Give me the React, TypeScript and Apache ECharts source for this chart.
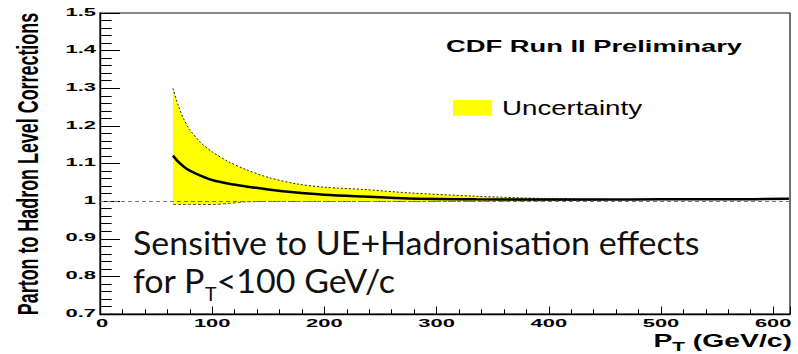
import React, { useEffect, useRef } from "react";
import * as echarts from "echarts";

// Axis ticks and their labels
const xTicks = [0, 100, 200, 300, 400, 500, 600];
const xTickLabels = ["0", "100", "200", "300", "400", "500", "600"];
const yTicks = [0.7, 0.8, 0.9, 1.0, 1.1, 1.2, 1.3, 1.4, 1.5];
const yTickLabels = ["0.7", "0.8", "0.9", "1", "1.1", "1.2", "1.3", "1.4", "1.5"];

// Uncertainty band (P_T in GeV/c, correction factor)
const bandPt = [65, 70, 75, 80, 90, 100, 115, 130, 150, 175, 200, 235, 275, 335, 395, 450];
const bandUpper = [1.3, 1.252, 1.216, 1.19, 1.155, 1.131, 1.104, 1.084, 1.063, 1.046, 1.037, 1.031, 1.022, 1.013, 1.007, 1.005];
const bandLower = [0.991, 0.991, 0.991, 0.991, 0.991, 0.991, 0.994, 0.998, 0.999, 0.999, 0.999, 0.999, 0.999, 1.0, 1.001, 1.003];

// Central parton-to-hadron correction
const centralPt = [65, 70, 75, 80, 90, 100, 115, 130, 150, 175, 200, 235, 275, 335, 395, 450, 500, 560, 614];
const central = [1.121, 1.104, 1.091, 1.081, 1.067, 1.056, 1.046, 1.039, 1.031, 1.023, 1.017, 1.012, 1.007, 1.005, 1.004, 1.004, 1.005, 1.005, 1.006];

const referenceLevel = 1;

const X_MIN = 0;
const X_MAX = 615;
const Y_MIN = 0.7;
const Y_MAX = 1.5;

const BOLD = "'Liberation Sans', Arial, Helvetica, sans-serif";
const GEO = "Lato, 'Open Sans', sans-serif";

export default function App() {
  const ref = useRef<HTMLDivElement | null>(null);

  useEffect(() => {
    if (!ref.current) return;
    const chart = echarts.init(ref.current, null, { renderer: "svg" });

    // Band rows are [correction, pt] so that stacking acts on the correction value.
    const lowerRows = bandPt.map((x, i) => [bandLower[i], x]);
    const widthRows = bandPt.map((x, i) => [bandUpper[i] - bandLower[i], x]);

    const option: any = {
      animation: false,
      backgroundColor: "#ffffff",
      grid: {
        show: true,
        left: 100,
        right: 8,
        top: 13,
        bottom: 40,
        borderColor: "#111",
        borderWidth: 1.2,
        backgroundColor: "transparent",
      },
      xAxis: [
        {
          type: "value",
          min: X_MIN,
          max: X_MAX,
          interval: 100,
          position: "bottom",
          axisLine: { show: true, lineStyle: { color: "#000", width: 1.4 } },
          axisTick: { show: true, inside: true, length: 7.5, lineStyle: { color: "#000", width: 1 } },
          axisLabel: { show: false },
          splitLine: { show: false },
        },
        {
          type: "value",
          min: X_MIN,
          max: X_MAX,
          interval: 20,
          position: "bottom",
          axisLine: { show: false },
          axisTick: { show: true, inside: true, length: 4.7, lineStyle: { color: "#000", width: 1 } },
          axisLabel: { show: false },
          splitLine: { show: false },
        },
      ],
      yAxis: {
        type: "value",
        min: Y_MIN,
        max: Y_MAX,
        interval: 0.1,
        axisLine: { show: true, lineStyle: { color: "#000", width: 1.4 } },
        axisTick: { show: true, inside: true, length: 20, lineStyle: { color: "#000", width: 1 } },
        minorTick: { show: true, splitNumber: 5, length: 11.7, lineStyle: { color: "#000", width: 1 } },
        axisLabel: { show: false },
        splitLine: { show: false },
      },
      series: [
        {
          name: "lower",
          type: "line",
          xAxisIndex: 0,
          stack: "uncertainty",
          encode: { x: 1, y: 0 },
          data: lowerRows,
          symbol: "none",
          smooth: 0.3,
          lineStyle: { color: "#555", width: 1, type: [3, 2] },
          z: 2,
        },
        {
          name: "Uncertainty",
          type: "line",
          xAxisIndex: 0,
          stack: "uncertainty",
          encode: { x: 1, y: 0 },
          data: widthRows,
          symbol: "none",
          smooth: 0.3,
          lineStyle: { color: "#222", width: 1, type: [2, 2] },
          areaStyle: { color: "#ffff00", opacity: 1 },
          z: 2,
        },
        {
          name: "central",
          type: "line",
          xAxisIndex: 0,
          data: centralPt.map((x, i) => [x, central[i]]),
          symbol: "none",
          smooth: 0.3,
          lineStyle: { color: "#000", width: 2.5 },
          z: 4,
          markLine: {
            silent: true,
            symbol: ["none", "none"],
            label: { show: false },
            lineStyle: { color: "#777", width: 1, type: [4, 3] },
            data: [{ yAxis: referenceLevel }],
          },
        },
      ],
    };

    chart.setOption(option);

    const toPx = (x: number, y: number) =>
      chart.convertToPixel({ xAxisIndex: 0, yAxisIndex: 0 }, [x, y]) as number[];

    const graphics: any[] = [];

    // y tick labels, wide bold face
    yTicks.forEach((v, i) => {
      const [px, py] = toPx(X_MIN, v);
      graphics.push({
        type: "text",
        x: px - 4,
        y: py - 1,
        scaleX: 2.05,
        silent: true,
        style: {
          text: yTickLabels[i],
          fill: "#000",
          font: `bold 10.7px ${BOLD}`,
          textAlign: "right",
          textVerticalAlign: "middle",
          align: "right",
          verticalAlign: "middle",
        },
      });
    });

    // x tick labels
    xTicks.forEach((v, i) => {
      const [px, py] = toPx(v, Y_MIN);
      graphics.push({
        type: "text",
        x: px + (v === 0 ? 2 : 0),
        y: py + 9.5,
        scaleX: 2.05,
        silent: true,
        style: {
          text: xTickLabels[i],
          fill: "#000",
          font: `bold 10.7px ${BOLD}`,
          textAlign: "center",
          textVerticalAlign: "middle",
          align: "center",
          verticalAlign: "middle",
        },
      });
    });

    // y axis title
    graphics.push({
      type: "text",
      x: 27.5,
      y: 164,
      rotation: Math.PI / 2,
      scaleY: 1.6,
      silent: true,
      style: {
        text: "Parton to Hadron Level Corrections",
        fill: "#000",
        font: `bold 17.9px ${BOLD}`,
        textAlign: "center",
        textVerticalAlign: "middle",
        align: "center",
        verticalAlign: "middle",
      },
    });

    // x axis title with subscript
    graphics.push({
      type: "text",
      x: 792,
      y: 331.5,
      scaleX: 1.6,
      silent: true,
      style: {
        text: "{m|P}{s|T}{m| (GeV/c)}",
        align: "right",
        textAlign: "right",
        verticalAlign: "top",
        textVerticalAlign: "top",
        rich: {
          m: { fontFamily: BOLD, fontWeight: "bold", fontSize: 17.7, lineHeight: 18, verticalAlign: "top", fill: "#000" },
          s: { fontFamily: BOLD, fontWeight: "bold", fontSize: 13, lineHeight: 13, verticalAlign: "top", padding: [9, 0, 0, 0], fill: "#000" },
        },
      },
    });

    // experiment tag
    graphics.push({
      type: "text",
      x: 594,
      y: 45.5,
      scaleX: 1.58,
      silent: true,
      style: {
        text: "CDF Run II Preliminary",
        fill: "#000",
        font: `bold 17.3px ${BOLD}`,
        textAlign: "center",
        textVerticalAlign: "middle",
        align: "center",
        verticalAlign: "middle",
      },
    });

    // legend entry
    graphics.push({
      type: "rect",
      silent: true,
      shape: { x: 453, y: 100, width: 39, height: 15.7 },
      style: { fill: "#ffff00" },
    });
    graphics.push({
      type: "text",
      x: 502,
      y: 107.8,
      scaleX: 1.42,
      silent: true,
      style: {
        text: "Uncertainty",
        fill: "#000",
        font: `19.5px ${BOLD}`,
        textAlign: "left",
        textVerticalAlign: "middle",
        align: "left",
        verticalAlign: "middle",
      },
    });

    // annotation
    graphics.push({
      type: "text",
      x: 133,
      y: 242,
      scaleX: 1.03,
      silent: true,
      style: {
        text: "Sensitive to UE+Hadronisation effects",
        fill: "#111",
        font: `33px ${GEO}`,
        textAlign: "left",
        textVerticalAlign: "middle",
        align: "left",
        verticalAlign: "middle",
      },
    });
    graphics.push({
      type: "text",
      x: 133,
      y: 263.7,
      scaleX: 1.03,
      silent: true,
      style: {
        text: "{m|for P}{s|T}{m|<100 GeV/c}",
        align: "left",
        textAlign: "left",
        verticalAlign: "top",
        textVerticalAlign: "top",
        rich: {
          m: { fontFamily: GEO, fontSize: 33, lineHeight: 33, verticalAlign: "top", fill: "#111" },
          s: { fontFamily: GEO, fontSize: 19, lineHeight: 19, verticalAlign: "top", padding: [20, 0, 0, 0], fill: "#111" },
        },
      },
    });

    chart.setOption({ graphic: graphics });

    return () => chart.dispose();
  }, []);

  return (
    <div
      ref={ref}
      style={{ position: "absolute", left: 0, top: 0, width: 798, height: 354, background: "#fff" }}
    />
  );
}
